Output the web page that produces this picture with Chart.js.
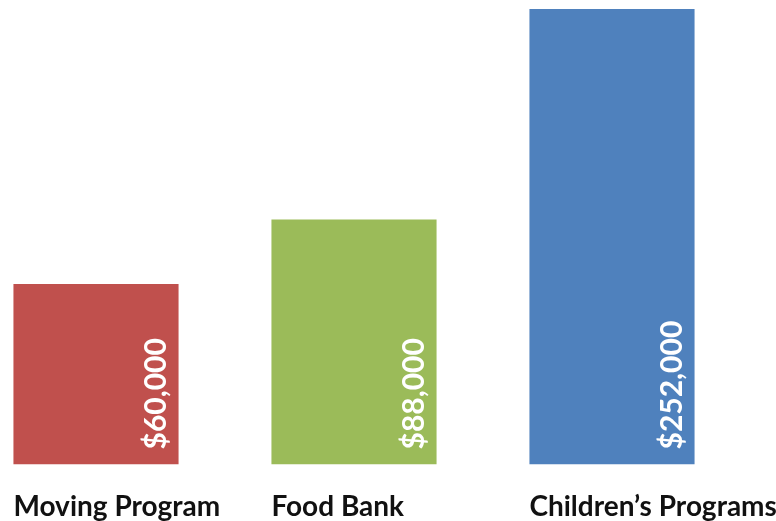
<!DOCTYPE html>
<html>
<head>
<meta charset="utf-8">
<script src="https://cdn.jsdelivr.net/npm/chart.js@4.4.1/dist/chart.umd.min.js"></script>
<style>
    html, body { margin: 0; padding: 0; background: #fff; overflow: hidden; }
    body { width: 776px; height: 521px; position: relative; }
    #wrap { position: absolute; left: -33px; top: 0; width: 809px; height: 521px; }
</style>
</head>
<body>
<div id="wrap"><canvas id="fundsChart"></canvas></div>
<script>
// programs and the amounts printed on each bar
const categories = ['Moving Program', 'Food Bank', 'Children\u2019s Programs'];
const amounts = [60000, 88000, 252000];
// bar heights as drawn in the picture (percent of the tallest bar, not to scale with amounts)
const barLevels = [39.6, 53.8, 100];
const barColors = ['#C0504D', '#9BBB59', '#4F81BD'];

const formatMoney = (v) => '$' + v.toLocaleString('en-US');

const labelPlugin = {
    id: 'barLabels',
    afterDatasetsDraw(chart) {
        const ctx = chart.ctx;
        const bars = chart.getDatasetMeta(0).data;
        bars.forEach((bar, i) => {
            const { x, base, width } = bar.getProps(['x', 'base', 'width'], true);

            // amount, written upward inside the bar
            ctx.save();
            ctx.translate(x + 60, base - 15);
            ctx.rotate(-Math.PI / 2);
            ctx.fillStyle = '#ffffff';
            ctx.font = 'bold 30px Lato, sans-serif';
            ctx.textAlign = 'left';
            ctx.textBaseline = 'middle';
            ctx.fillText(formatMoney(amounts[i]), 0, 0);
            ctx.restore();

            // program name under the bar
            ctx.save();
            ctx.fillStyle = '#111111';
            ctx.font = 'bold 28px Lato, sans-serif';
            ctx.textAlign = 'left';
            ctx.textBaseline = 'alphabetic';
            ctx.fillText(categories[i], x - width / 2, 515.5);
            ctx.restore();
        });
    },
};

new Chart(document.getElementById('fundsChart').getContext('2d'), {
    type: 'bar',
    data: {
        labels: categories,
        datasets: [{
            data: barLevels,
            backgroundColor: barColors,
            borderWidth: 0,
            categoryPercentage: 1,
            barPercentage: 0.64,
        }],
    },
    options: {
        responsive: true,
        maintainAspectRatio: false,
        animation: false,
        layout: { padding: { top: 9, bottom: 56.5, left: 0, right: 35 } },
        plugins: {
            legend: { display: false },
            tooltip: { enabled: false },
        },
        scales: {
            x: { display: false },
            y: { display: false, min: 0, max: 100 },
        },
    },
    plugins: [labelPlugin],
});
</script>
</body>
</html>
